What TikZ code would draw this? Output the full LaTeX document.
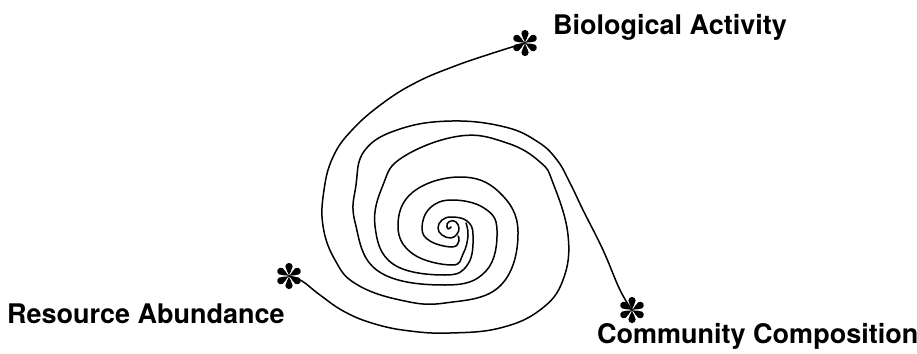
\documentclass[tikz,border=0pt]{standalone}
\usepackage{fontspec}
\setsansfont{TeX Gyre Heros}
\usepackage{tikz}
\usetikzlibrary{positioning}
\tikzset{every picture/.style={/utils/exec={\sffamily}}}

\begin{document}
\begin{tikzpicture}[x=1pt, y=-1pt,
    arm/.style={line width=1.5pt, line cap=round, line join=round},
    tag/.style={font=\bfseries\fontsize{27}{32}\selectfont, inner sep=0pt, anchor=base west},
    burst/.style={circle, minimum size=26pt, inner sep=0pt}]
        \useasboundingbox (0,0) rectangle (917,353);

        % Nodes
        \node[burst] (bio) at (525,43) {};
        \node[burst] (res) at (289,276) {};
        \node[burst] (com) at (632,310) {};
        \coordinate (eye) at (451,227);

        \node[tag] (bioText) at (553,35) {Biological Activity};
        \node[tag] (resText) at (7,323) {Resource Abundance};
        \node[tag] (comText) at (597,343) {Community Composition};

        % Spiral arms
        \draw[arm] plot[smooth, tension=0.7] coordinates {(bio.center) (490,54) (455,66) (417,82) (383,103) (352,130) (333,157) (324,190) (323,226) (335,260) (356,284) (400,300) (445,303) (500,286) (518,232) (499,192) (460,177) (413,192) (398,226) (413,254) (452,265) (463,254) (468,236) (466,223)};
        \draw[arm] plot[smooth, tension=0.7] coordinates {(com.center) (620,290) (603,250) (583,210) (570,183) (557,160) (538,142) (505,127) (452,121) (400,129) (365,150) (356,185) (355,222) (378,271) (445,285) (486,271) (497,230) (484,208) (452,200) (430,208) (422,228) (430,241) (452,247) (459,241) (458,236)};
        \draw[arm] plot[smooth, tension=0.7] coordinates {(res.center) (302,281) (320,295) (345,312) (375,324) (410,331) (450,333) (500,328) (540,310) (563,280) (568,235) (553,183) (540,162) (507,143) (460,136) (403,157) (383,185) (375,226) (393,264) (445,275) (468,264) (473,235) (467,221) (452,217) (442,220) (438,228) (442,235) (451,238) (457,234) (459,228) (456,222) (451,221) (447,224) (448,229) (eye)};

        % Asterisks
        \foreach \n in {bio, res, com}
            \foreach \a in {30,90,...,330}
                \fill[shift={(\n.center)}, rotate=\a]
                    (0,0) .. controls (4.3,0.8) and (6.2,3.6) .. (9.5,3.6)
                    arc[start angle=90, end angle=-90, radius=3.6]
                    .. controls (6.2,-3.6) and (4.3,-0.8) .. (0,0);
    \end{tikzpicture}
\end{document}
